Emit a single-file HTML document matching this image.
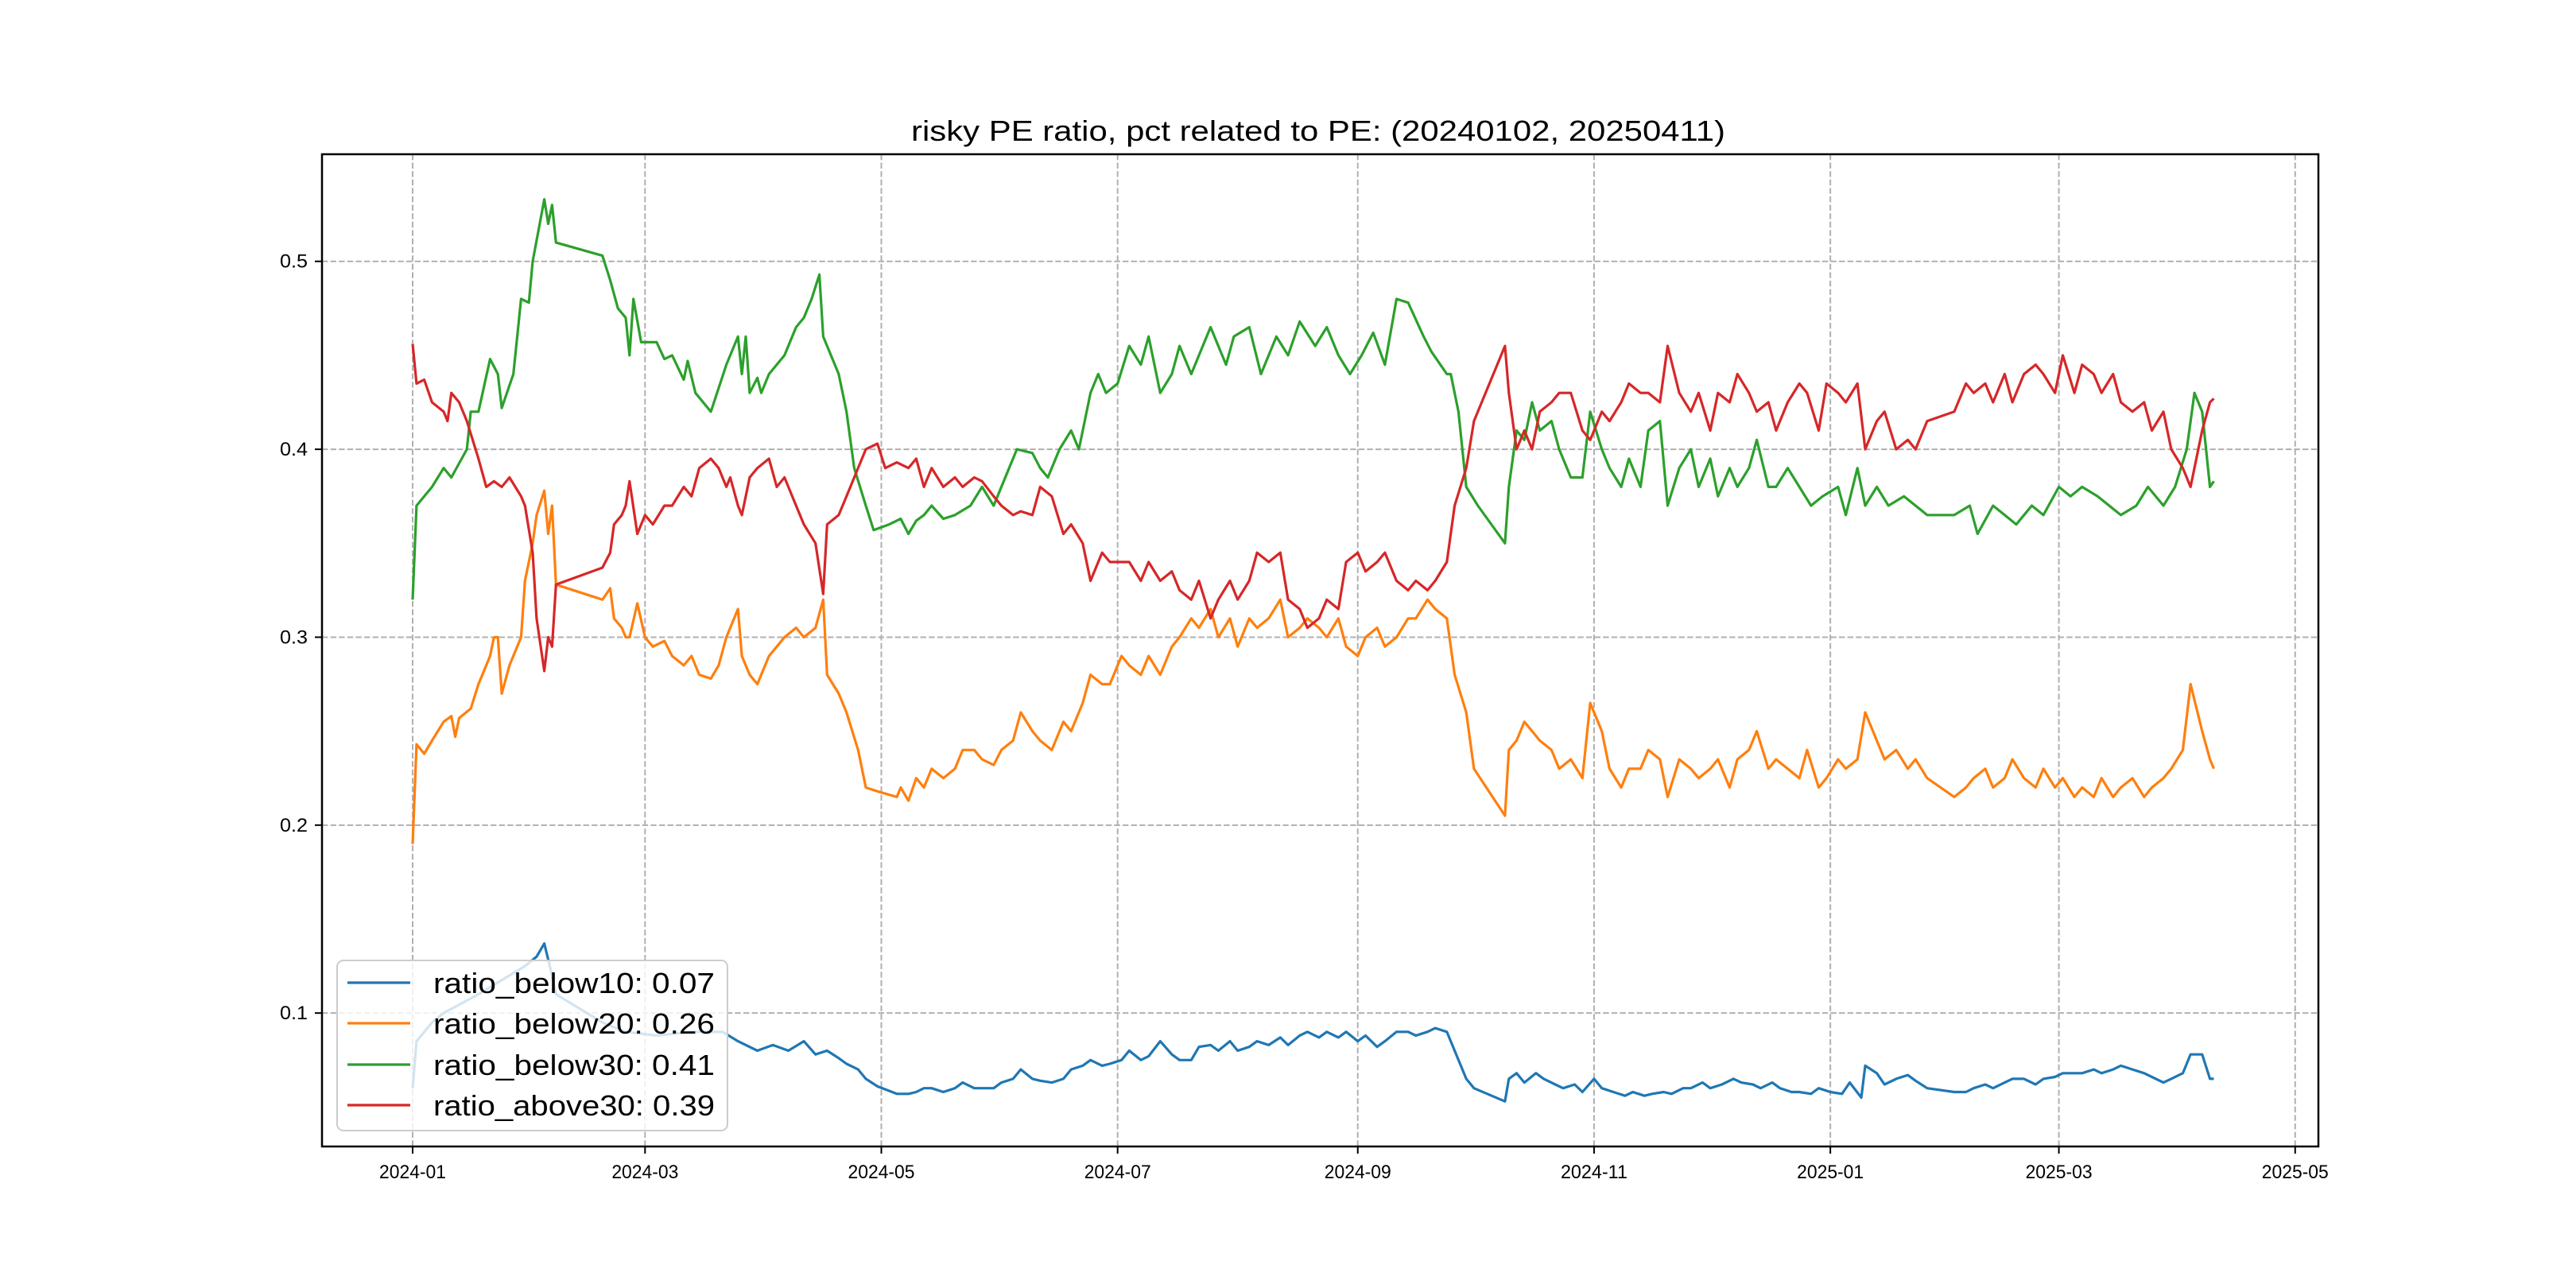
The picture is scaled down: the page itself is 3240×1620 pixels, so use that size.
<!DOCTYPE html>
<html><head><meta charset="utf-8"><style>
html,body{margin:0;padding:0;background:#fff}
svg{display:block}
text{font-family:"Liberation Sans","DejaVu Sans",sans-serif}
</style></head><body>
<svg id="chart" width="3240" height="1620" viewBox="0 0 3240 1620" xmlns="http://www.w3.org/2000/svg">
<rect x="0" y="0" width="3240" height="1620" fill="#fff"/>
<text x="1658" y="177" text-anchor="middle" font-size="36" textLength="1024" lengthAdjust="spacingAndGlyphs">risky PE ratio, pct related to PE: (20240102, 20250411)</text>
<g id="grid"></g>
<g id="series"></g>
<rect x="405" y="194" width="2511" height="1248" fill="none" stroke="#000" stroke-width="2.5"/>
<g id="ticks"></g>
<g id="legend"></g>
</svg>
<script>
// x values = days since 2024-01-01
const xTickDays = [0,60,121,182,244,305,366,425,486];
const xTickLabels = ["2024-01","2024-03","2024-05","2024-07","2024-09","2024-11","2025-01","2025-03","2025-05"];
const yTickValues = [0.1,0.2,0.3,0.4,0.5];
const yTickLabels = ["0.1","0.2","0.3","0.4","0.5"];
const seriesNames = ["ratio_below10: 0.07","ratio_below20: 0.26","ratio_below30: 0.41","ratio_above30: 0.39"];
const seriesColors = ["#1f77b4","#ff7f0e","#2ca02c","#d62728"];

const daysBlue = [0,1,5,8,17,25,29,32,34,36,37,49,55,63,72,80,84,89,93,97,101,104,107,110,112,115,117,120,125,128,130,132,134,137,140,142,145,147,150,152,155,157,160,162,165,168,170,173,175,178,180,183,185,188,190,193,196,198,201,203,206,208,211,213,216,218,221,224,226,229,231,234,236,239,241,244,246,249,251,254,257,259,262,264,267,269,272,274,282,283,285,287,290,292,295,297,300,302,305,307,310,313,315,318,320,323,325,328,330,333,335,338,341,343,346,348,351,353,356,358,361,363,366,369,371,374,375,378,380,383,386,388,391,398,401,403,406,408,411,413,416,419,421,424,426,429,431,434,436,439,441,444,447,449,452,454,457,459,462,464,465];
const valsBlue = [0.06,0.085,0.095,0.10,0.11,0.12,0.125,0.13,0.137,0.12,0.11,0.095,0.09,0.088,0.09,0.09,0.085,0.08,0.083,0.08,0.085,0.078,0.08,0.076,0.073,0.07,0.065,0.061,0.057,0.057,0.058,0.06,0.06,0.058,0.06,0.063,0.06,0.06,0.06,0.063,0.065,0.07,0.065,0.064,0.063,0.065,0.07,0.072,0.075,0.072,0.073,0.075,0.08,0.075,0.077,0.085,0.078,0.075,0.075,0.082,0.083,0.08,0.085,0.08,0.082,0.085,0.083,0.087,0.083,0.088,0.09,0.087,0.09,0.087,0.09,0.085,0.088,0.082,0.085,0.09,0.09,0.088,0.09,0.092,0.09,0.08,0.065,0.06,0.053,0.065,0.068,0.063,0.068,0.065,0.062,0.06,0.062,0.058,0.065,0.06,0.058,0.056,0.058,0.056,0.057,0.058,0.057,0.06,0.06,0.063,0.06,0.062,0.065,0.063,0.062,0.06,0.063,0.06,0.058,0.058,0.057,0.06,0.058,0.057,0.063,0.055,0.072,0.068,0.062,0.065,0.067,0.064,0.06,0.058,0.058,0.06,0.062,0.06,0.063,0.065,0.065,0.062,0.065,0.066,0.068,0.068,0.068,0.07,0.068,0.07,0.072,0.07,0.068,0.066,0.063,0.065,0.068,0.078,0.078,0.065,0.065];

const daysOrange = [0,1,3,5,8,10,11,12,15,17,18,20,21,22,23,25,28,29,31,32,34,35,36,37,49,51,52,54,55,56,58,60,62,65,67,70,72,74,77,79,81,82,84,85,87,89,92,94,96,99,101,104,106,107,110,112,115,117,120,125,126,128,130,132,134,137,140,142,145,147,150,152,155,157,160,162,165,168,170,173,175,178,180,183,185,188,190,193,196,198,201,203,206,208,211,213,216,218,221,224,226,229,231,234,236,239,241,244,246,249,251,254,257,259,262,264,267,269,272,274,282,283,285,287,289,291,294,296,299,302,304,307,309,312,314,317,319,322,324,327,330,332,335,337,340,342,345,347,350,352,355,358,360,363,365,368,370,373,375,378,380,383,386,388,391,398,401,403,406,408,411,413,416,419,421,424,426,429,431,434,436,439,441,444,447,449,452,454,457,459,462,464,465];
const valsOrange = [0.19,0.243,0.238,0.245,0.255,0.258,0.247,0.257,0.262,0.275,0.28,0.29,0.30,0.30,0.27,0.285,0.30,0.33,0.35,0.365,0.378,0.355,0.37,0.328,0.32,0.326,0.31,0.305,0.30,0.30,0.318,0.30,0.295,0.298,0.29,0.285,0.29,0.28,0.278,0.285,0.30,0.305,0.315,0.29,0.28,0.275,0.29,0.295,0.30,0.305,0.30,0.305,0.32,0.28,0.27,0.26,0.24,0.22,0.218,0.215,0.22,0.213,0.225,0.22,0.23,0.225,0.23,0.24,0.24,0.235,0.232,0.24,0.245,0.26,0.25,0.245,0.24,0.255,0.25,0.265,0.28,0.275,0.275,0.29,0.285,0.28,0.29,0.28,0.295,0.30,0.31,0.305,0.315,0.30,0.31,0.295,0.31,0.305,0.31,0.32,0.30,0.305,0.31,0.305,0.30,0.31,0.295,0.29,0.30,0.305,0.295,0.30,0.31,0.31,0.32,0.315,0.31,0.28,0.26,0.23,0.205,0.24,0.245,0.255,0.25,0.245,0.24,0.23,0.235,0.225,0.265,0.25,0.23,0.22,0.23,0.23,0.24,0.235,0.215,0.235,0.23,0.225,0.23,0.235,0.22,0.235,0.24,0.25,0.23,0.235,0.23,0.225,0.24,0.22,0.225,0.235,0.23,0.235,0.26,0.245,0.235,0.24,0.23,0.235,0.225,0.215,0.22,0.225,0.23,0.22,0.225,0.235,0.225,0.22,0.23,0.22,0.225,0.215,0.22,0.215,0.225,0.215,0.22,0.225,0.215,0.22,0.225,0.23,0.24,0.275,0.25,0.235,0.23];

const daysGreen = [0,1,5,8,10,14,15,17,20,22,23,26,28,30,31,34,35,36,37,49,51,53,55,56,57,59,63,65,67,70,71,73,77,81,84,85,86,87,89,90,92,96,99,101,103,105,106,110,112,114,117,119,123,126,128,130,132,134,137,140,144,147,150,153,156,160,162,164,167,170,172,175,177,179,182,185,188,190,193,196,198,201,203,206,210,212,216,219,223,226,229,233,236,239,242,245,248,251,254,257,261,263,267,268,270,272,275,282,283,285,287,289,291,294,296,299,302,304,307,309,312,314,317,319,322,324,327,330,332,335,337,340,342,345,347,350,352,355,358,361,364,368,370,373,375,378,381,385,388,391,398,402,404,408,411,414,418,421,425,428,431,435,438,441,445,448,452,455,458,460,462,464,465];
const valsGreen = [0.32,0.37,0.38,0.39,0.385,0.40,0.42,0.42,0.448,0.44,0.422,0.44,0.48,0.478,0.50,0.533,0.52,0.53,0.51,0.503,0.49,0.475,0.47,0.45,0.48,0.457,0.457,0.448,0.45,0.437,0.447,0.43,0.42,0.445,0.46,0.44,0.46,0.43,0.438,0.43,0.44,0.45,0.465,0.47,0.48,0.493,0.46,0.44,0.42,0.39,0.37,0.357,0.36,0.363,0.355,0.362,0.365,0.37,0.363,0.365,0.37,0.38,0.37,0.385,0.40,0.398,0.39,0.385,0.40,0.41,0.40,0.43,0.44,0.43,0.435,0.455,0.445,0.46,0.43,0.44,0.455,0.44,0.45,0.465,0.445,0.46,0.465,0.44,0.46,0.45,0.468,0.455,0.465,0.45,0.44,0.45,0.462,0.445,0.48,0.478,0.46,0.452,0.44,0.44,0.42,0.38,0.37,0.35,0.38,0.41,0.405,0.425,0.41,0.415,0.40,0.385,0.385,0.42,0.40,0.39,0.38,0.395,0.38,0.41,0.415,0.37,0.39,0.40,0.38,0.395,0.375,0.39,0.38,0.39,0.405,0.38,0.38,0.39,0.38,0.37,0.375,0.38,0.365,0.39,0.37,0.38,0.37,0.375,0.37,0.365,0.365,0.37,0.355,0.37,0.365,0.36,0.37,0.365,0.38,0.375,0.38,0.375,0.37,0.365,0.37,0.38,0.37,0.38,0.40,0.43,0.42,0.38,0.383];

const daysRed = [0,1,3,5,8,9,10,12,14,17,19,21,23,25,28,29,31,32,34,35,36,37,49,51,52,54,55,56,58,60,62,65,67,70,72,74,77,79,81,82,84,85,87,89,92,94,96,99,101,104,106,107,110,112,115,117,120,122,125,128,130,132,134,137,140,142,145,147,150,152,155,157,160,162,165,168,170,173,175,178,180,183,185,188,190,193,196,198,201,203,206,208,211,213,216,218,221,224,226,229,231,234,236,239,241,244,246,249,251,254,257,259,262,264,267,269,272,274,282,283,285,287,289,291,294,296,299,302,304,307,309,312,314,317,319,322,324,327,330,332,335,337,340,342,345,347,350,352,355,358,360,363,365,368,370,373,375,378,380,383,386,388,391,398,401,403,406,408,411,413,416,419,421,424,426,429,431,434,436,439,441,444,447,449,452,454,457,459,462,464,465];
const valsRed = [0.456,0.435,0.437,0.425,0.42,0.415,0.43,0.425,0.415,0.395,0.38,0.383,0.38,0.385,0.375,0.37,0.345,0.31,0.282,0.30,0.295,0.328,0.337,0.345,0.36,0.365,0.37,0.383,0.355,0.365,0.36,0.37,0.37,0.38,0.375,0.39,0.395,0.39,0.38,0.385,0.37,0.365,0.385,0.39,0.395,0.38,0.385,0.37,0.36,0.35,0.323,0.36,0.365,0.375,0.39,0.40,0.403,0.39,0.393,0.39,0.395,0.38,0.39,0.38,0.385,0.38,0.385,0.383,0.375,0.37,0.365,0.367,0.365,0.38,0.375,0.355,0.36,0.35,0.33,0.345,0.34,0.34,0.34,0.33,0.34,0.33,0.335,0.325,0.32,0.33,0.31,0.32,0.33,0.32,0.33,0.345,0.34,0.345,0.32,0.315,0.305,0.31,0.32,0.315,0.34,0.345,0.335,0.34,0.345,0.33,0.325,0.33,0.325,0.33,0.34,0.37,0.39,0.415,0.455,0.43,0.40,0.41,0.40,0.42,0.425,0.43,0.43,0.41,0.405,0.42,0.415,0.425,0.435,0.43,0.43,0.425,0.455,0.43,0.42,0.43,0.41,0.43,0.425,0.44,0.43,0.42,0.425,0.41,0.425,0.435,0.43,0.41,0.435,0.43,0.425,0.435,0.40,0.415,0.42,0.40,0.405,0.40,0.415,0.42,0.435,0.43,0.435,0.425,0.44,0.425,0.44,0.445,0.44,0.43,0.45,0.43,0.445,0.44,0.43,0.44,0.425,0.42,0.425,0.41,0.42,0.40,0.39,0.38,0.41,0.425,0.427];

const NS = "http://www.w3.org/2000/svg";
const L = 405, R = 2916, T = 194, B = 1442;
const xMin = -23.4, xMax = 492, yMin = 0.029, yMax = 0.557;
function xScale(d){ return L + (d - xMin) / (xMax - xMin) * (R - L); }
function yScale(v){ return B - (v - yMin) / (yMax - yMin) * (B - T); }
function mk(tag, attrs, parent){
  const e = document.createElementNS(NS, tag);
  for (const k in attrs) e.setAttribute(k, attrs[k]);
  parent.appendChild(e);
  return e;
}
const grid = document.getElementById('grid');
const ticks = document.getElementById('ticks');
xTickDays.forEach((d, i) => {
  const x = xScale(d);
  const g = mk('line', {x1:x, x2:x, y1:T, y2:B, stroke:'#b0b0b0', 'stroke-width':2, 'stroke-dasharray':'7.4,3.2'}, grid);
  
  
  const t = mk('line', {x1:x, x2:x, y1:B, y2:B+9, stroke:'#000', 'stroke-width':2}, ticks);
  
  
  const lb = mk('text', {x:x, y:B+40, 'text-anchor':'middle', 'font-size':24, textLength:84, lengthAdjust:'spacingAndGlyphs'}, ticks);
  
  
  lb.textContent = xTickLabels[i];
});
yTickValues.forEach((v, i) => {
  const y = yScale(v);
  const g = mk('line', {x1:L, x2:R, y1:y, y2:y, stroke:'#b0b0b0', 'stroke-width':2, 'stroke-dasharray':'7.4,3.2'}, grid);
  
  
  const t = mk('line', {x1:L-9, x2:L, y1:y, y2:y, stroke:'#000', 'stroke-width':2}, ticks);
  
  
  const lb = mk('text', {x:L-18, y:y+8, 'text-anchor':'end', 'font-size':24, textLength:35, lengthAdjust:'spacingAndGlyphs'}, ticks);
  
  
  lb.textContent = yTickLabels[i];
});
const series = document.getElementById('series');
const allDays = [daysBlue, daysOrange, daysGreen, daysRed];
const allVals = [valsBlue, valsOrange, valsGreen, valsRed];
const lineNames = ['line-ratio-below10','line-ratio-below20','line-ratio-below30','line-ratio-above30'];
allDays.forEach((ds, si) => {
  const vs = allVals[si];
  const pts = ds.map((d, i) => xScale(d).toFixed(1) + ',' + yScale(vs[i]).toFixed(1)).join(' ');
  const pl = mk('polyline', {points:pts, fill:'none', stroke:seriesColors[si], 'stroke-width':3.2, 'stroke-linejoin':'round'}, series);
  
  
});
const legend = document.getElementById('legend');
const box = mk('rect', {x:424, y:1208, width:491, height:214, rx:8, fill:'#fff', 'fill-opacity':0.8, stroke:'#cccccc', 'stroke-width':2}, legend);


const legY = [1236, 1287, 1339, 1390];
seriesNames.forEach((n, i) => {
  const ln = mk('line', {x1:437, x2:516, y1:legY[i], y2:legY[i], stroke:seriesColors[i], 'stroke-width':3.2}, legend);
  
  
  const tx = mk('text', {x:545, y:legY[i]+13, 'font-size':36, textLength:354, lengthAdjust:'spacingAndGlyphs'}, legend);
  
  
  tx.textContent = n;
});
</script>
</body></html>
